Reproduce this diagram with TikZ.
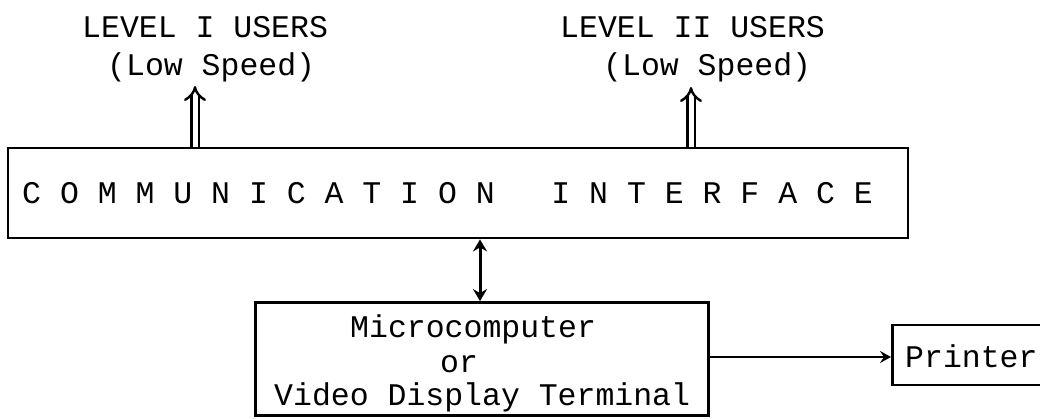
\documentclass[tikz,border=0pt]{standalone}
\usepackage{fontspec}
\setmainfont{Liberation Mono}
\usetikzlibrary{arrows.meta}
\begin{document}
\begin{tikzpicture}[x=1pt,y=-1pt,
  txt/.style={font=\fontsize{31.5}{36}\selectfont, inner sep=0pt, anchor=base west},
  boxline/.style={draw, line width=2.8pt, inner sep=0pt},
  hollowarrow/.style={line width=2.4pt, double, double distance=5pt, -{Implies[length=9pt,width=22pt]}},
  bidir/.style={line width=3pt, {Stealth[length=12pt,width=14pt,inset=4pt]}-{Stealth[length=12pt,width=14pt,inset=4pt]}},
  toarrow/.style={line width=2.6pt, -{Stealth[length=11pt,width=12pt,inset=4pt]}}]
\useasboundingbox (0,0) rectangle (1040,418);
\clip (0,0) rectangle (1040,418);
% boxes
\node[boxline, minimum width=900pt, minimum height=90pt] (comm) at (458,193) {};
\node[boxline, minimum width=453pt, minimum height=113pt] (micro) at (482,359) {};
\node[boxline, minimum width=170pt, minimum height=60pt, anchor=west] (printer) at (891,355) {};
% texts
\node[txt] (lev1) at (82,37) {LEVEL I USERS};
\node[txt] (low1) at (107,75) {(Low Speed)};
\node[txt] (lev2) at (560,37) {LEVEL II USERS};
\node[txt] (low2) at (603,75) {(Low Speed)};
\node[txt] (commtxt) at (22,203) {C O M M U N I C A T I O N\ \ \ I N T E R F A C E};
\node[txt] (m1) at (350,337) {Microcomputer};
\node[txt] (m2) at (440,372) {or};
\node[txt] (m3) at (274,405) {Video Display Terminal};
\node[txt] (ptxt) at (905,367) {Printer};
% tips
\coordinate (u1) at (195,86);
\coordinate (u2) at (691,87);
% connectors
\draw[hollowarrow] (comm.north -| u1) -- (u1);
\draw[hollowarrow] (comm.north -| u2) -- (u2);
\draw[bidir] (comm.south -| 480,0) -- (micro.north -| 480,0);
\draw[toarrow] (micro.east |- 0,357) -- (printer.west |- 0,357);
\end{tikzpicture}
\end{document}
